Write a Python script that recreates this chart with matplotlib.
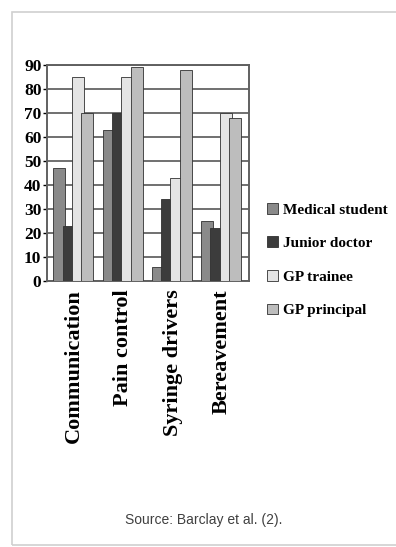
import matplotlib.pyplot as plt
from matplotlib.patches import Rectangle
import numpy as np

topics = ['Communication', 'Pain control', 'Syringe drivers', 'Bereavement']
groups = ['Medical student', 'Junior doctor', 'GP trainee', 'GP principal']
medical_student = [47, 63, 6, 25]
junior_doctor = [23, 70, 34, 22]
gp_trainee = [85, 85, 43, 70]
gp_principal = [70, 89, 88, 68]
y_ticks = list(range(0, 100, 10))

series = [medical_student, junior_doctor, gp_trainee, gp_principal]
colours = ['#8a8a8a', '#3c3c3c', '#e4e4e4', '#bdbdbd']

fig = plt.figure(figsize=(3.96, 5.47), dpi=100)
fig.patches.append(Rectangle((12 / 396, 0.004), 0.99, 1 - 14 / 547,
                             transform=fig.transFigure, fill=False,
                             edgecolor='#d0d0d0', linewidth=1.2))

ax = fig.add_axes([47 / 396, 1 - 281 / 547, 202 / 396, 216 / 547])

x = np.arange(len(topics))
w = 0.19
for i, (vals, c) in enumerate(zip(series, colours)):
    ax.bar(x - 0.3 + i * w, vals, width=w * 1.3, color=c,
           edgecolor='#303030', linewidth=0.6, label=groups[i], zorder=3 + i)

ax.set_xlim(-0.55, 3.55)
ax.set_ylim(0, 90)
ax.set_yticks(y_ticks)
ax.set_yticklabels([str(t) for t in y_ticks], fontfamily='Liberation Serif',
                   fontweight='bold', fontsize=12.5)
ax.yaxis.grid(True, color='#707070', linewidth=1.4, zorder=0)
ax.set_axisbelow(True)
ax.tick_params(axis='y', length=3, width=1, pad=1)
for s in ax.spines.values():
    s.set_color('#606060')
    s.set_linewidth(1.4)

ax.set_xticks(x)
ax.set_xticklabels(topics, rotation=90, fontfamily='Liberation Serif',
                   fontweight='bold', fontsize=16, va='top')
ax.tick_params(axis='x', length=0, pad=6)

leg = ax.legend(loc='upper left', bbox_to_anchor=(1.06, 0.39), frameon=False,
                prop={'family': 'Liberation Serif', 'weight': 'bold', 'size': 11},
                handlelength=0.7, handleheight=0.7, handletextpad=0.3,
                labelspacing=1.3, borderaxespad=0)

fig.text(204 / 396, 1 - 520 / 547, 'Source: Barclay et al. (2).',
         ha='center', va='center', fontsize=10, color='#404040',
         fontfamily='Liberation Sans')

plt.savefig('out.png', dpi=100)
